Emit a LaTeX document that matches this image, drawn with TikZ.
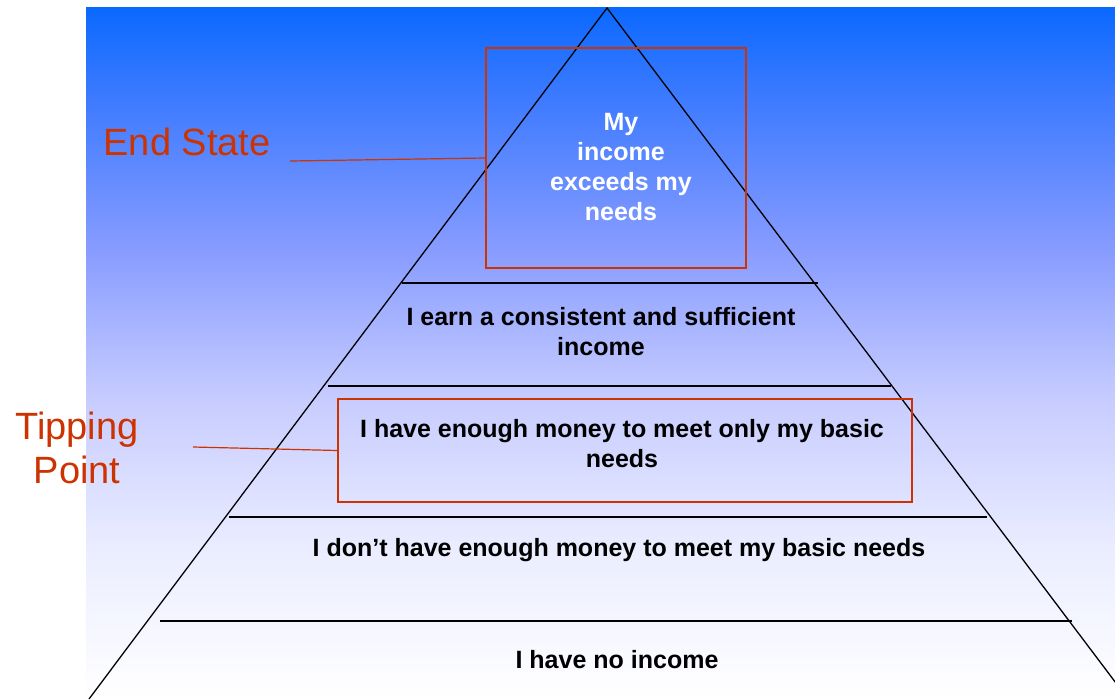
\documentclass[tikz,border=0pt]{standalone}
\usepackage{fontspec}
\setmainfont{Liberation Sans}
\usetikzlibrary{positioning}
\definecolor{markred}{RGB}{204,51,0}
\pgfdeclareverticalshading{skyfade}{100bp}{rgb(0bp)=(1,1,1); rgb(25bp)=(1,1,1);
  rgb(35.8bp)=(0.92,0.93,1); rgb(46.7bp)=(0.78,0.80,1); rgb(57.5bp)=(0.53,0.61,1);
  rgb(68.4bp)=(0.24,0.48,1); rgb(75bp)=(0.04,0.41,1); rgb(100bp)=(0.04,0.41,1)}
\tikzset{level text/.style={font=\fontsize{25}{30}\selectfont\bfseries,align=center,text=black,inner sep=0pt},
         top text/.style={level text,text=white},
         mark box/.style={draw=markred,line width=1.2pt,inner sep=0pt},
         mark label/.style={font=\fontsize{38}{44}\selectfont,text=markred,align=center,inner sep=0pt},
         mark line/.style={draw=markred,line width=1.2pt},
         step line/.style={draw,line width=1.3pt},
            }

\begin{document}
\begin{tikzpicture}[x=1pt,y=-1pt]

    \useasboundingbox (0,0) rectangle (1115,699);
    \shade[shading=skyfade] (86,7) rectangle (1115,699);

    % pyramid
    \coordinate (apex) at (607,8);
    \coordinate (left) at (89,699);
    \coordinate (right) at (1128,699);
    \begin{scope}
    \clip (86,7) rectangle (1115,699);
    \path[draw,line width=1.3pt] (left) -- (apex) -- (right);
    \end{scope}

    \coordinate (s1a) at (402,283);  \coordinate (s1b) at (818,283);
    \coordinate (s2a) at (328,386);  \coordinate (s2b) at (891,386);
    \coordinate (s3a) at (229,517);  \coordinate (s3b) at (987,517);
    \coordinate (s4a) at (160,621);  \coordinate (s4b) at (1072,621);

    \path[step line]
    (s1a) -- (s1b)
    (s2a) -- (s2b)
    (s3a) -- (s3b)
    (s4a) -- (s4b);

    % levels
    \node[top text] (top) at (621,167) {My\\income\\exceeds my\\needs};
    \node[level text] (earn) at (601,332) {I earn a consistent and sufficient\\income};
    \node[level text] (basic) at (622,444) {I have enough money to meet only my basic\\needs};
    \node[level text] (short) at (619,550) {I don’t have enough money to meet my basic needs};
    \node[level text] (none) at (617,660) {I have no income};

    % markers
    \node[mark box,minimum width=260pt,minimum height=220pt] (endbox) at (616,158) {};
    \node[mark box,minimum width=574pt,minimum height=103pt] (tipbox) at (625,450.5) {};
    \node[mark label] (endlabel) at (187,142) {End State};
    \node[mark label] (tiplabel) at (77,448) {Tipping\\Point};
    \coordinate (endstart) at (290,161);
    \coordinate (tipstart) at (193,447);

    \path[mark line]
    (endstart) -- (endbox.west)
    (tipstart) -- (tipbox.west);

\end{tikzpicture}
\end{document}
